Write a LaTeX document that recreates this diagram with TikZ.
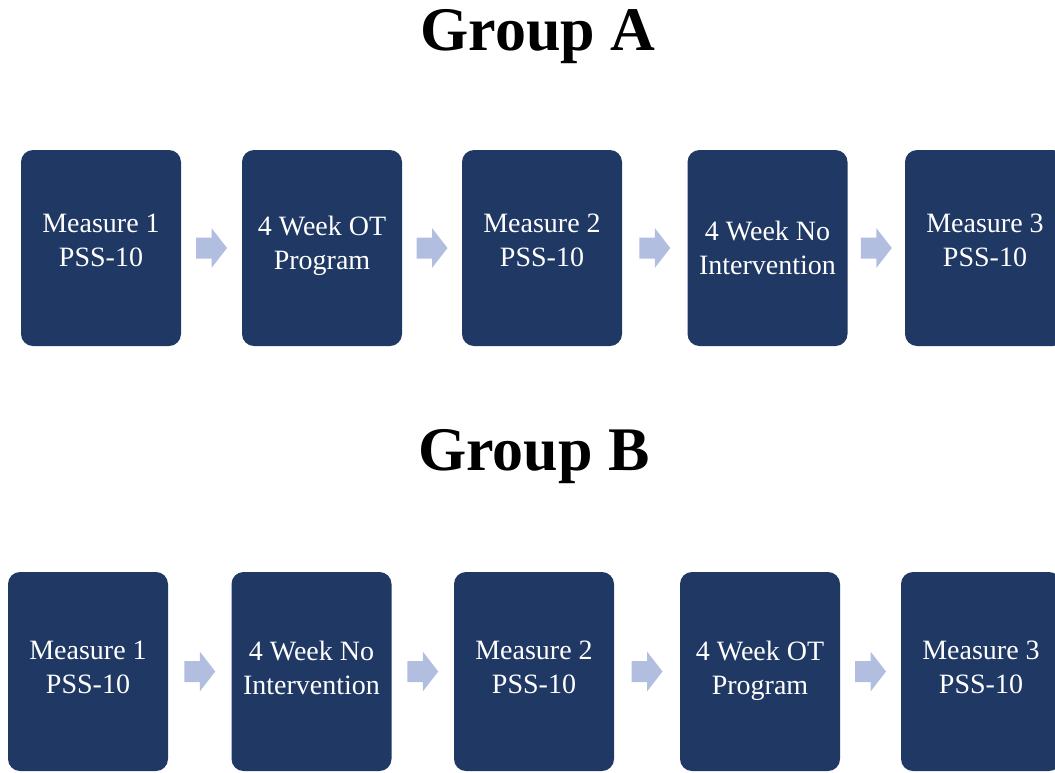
\documentclass[tikz,border=0pt]{standalone}
\usepackage{fontspec}
\setmainfont{Liberation Serif}
\usepackage{tikz}
\usetikzlibrary{calc}
\definecolor{phasenavy}{RGB}{32,56,100}
\definecolor{arrowblue}{RGB}{177,190,224}

\begin{document}
\begin{tikzpicture}[x=1pt,y=-1pt,
		phase/.style={fill=phasenavy,text=white,rounded corners=12pt,minimum width=160pt,minimum height=196pt,align=center,inner sep=0pt,font=\fontsize{28}{34}\selectfont},
		lift/.style={text depth=#1},
		grouptitle/.style={anchor=base,font=\fontsize{62}{62}\selectfont\bfseries},
		blockarrow/.style={fill=arrowblue}]
	
	\useasboundingbox (0,0) rectangle (1055,772);
	
	% group A
	\node[grouptitle] (titleA) at (538,50) {Group A};
	
	\node[phase,lift=15pt] (a1) at (101,248) {Measure 1\\PSS-10};
	\node[phase,lift=11pt] (a2) at (322,248) {4 Week OT\\Program};
	\node[phase,lift=15pt] (a3) at (542,248) {Measure 2\\PSS-10};
	\node[phase] (a4) at (767.5,248) {4 Week No\\Intervention};
	\node[phase,lift=15pt] (a5) at (985,248) {Measure 3\\PSS-10};
	
	% group B
	\node[grouptitle] (titleB) at (534,470) {Group B};
	
	\node[phase,minimum height=199pt,lift=9pt] (b1) at (88,671.5) {Measure 1\\PSS-10};
	\node[phase,minimum height=199pt,lift=8pt] (b2) at (311.5,671.5) {4 Week No\\Intervention};
	\node[phase,minimum height=199pt,lift=9pt] (b3) at (534,671.5) {Measure 2\\PSS-10};
	\node[phase,minimum height=199pt,lift=8pt] (b4) at (760,671.5) {4 Week OT\\Program};
	\node[phase,minimum height=199pt,lift=9pt] (b5) at (981,671.5) {Measure 3\\PSS-10};
	
	% block arrows between the phases
	\foreach \u/\v in {a1/a2,a2/a3,a3/a4,a4/a5,b1/b2,b2/b3,b3/b4,b4/b5}
		\fill[blockarrow,shift={($(\u.east)!0.5!(\v.west)$)}] (-15.5,-10.5) -- (0,-10.5) -- (0,-20) -- (15.5,0) -- (0,20) -- (0,10.5) -- (-15.5,10.5) -- cycle;
	
\end{tikzpicture}
\end{document}
